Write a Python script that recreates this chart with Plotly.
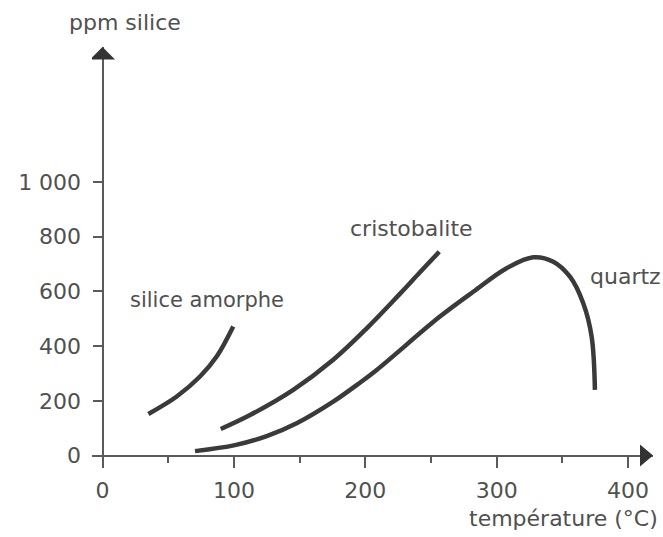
import plotly.graph_objects as go

# Solubility of silica phases in water versus temperature
amorphe_t = [34.9, 56.5, 74.2, 86.9, 99.5]
amorphe_ppm = [152, 216, 289, 362, 472]

cristo_t = [90.0, 112.3, 145.2, 175.6, 201.1, 226.5, 241.6, 256.3]
cristo_ppm = [97, 148, 240, 350, 465, 592, 670, 745]

quartz_t = [70.4, 100.8, 125.0, 147.8, 175.6, 194.7, 208.7, 256.8, 282.2, 307.6, 327.9,
            343.1, 355.8, 365.9, 372.3, 374.8]
quartz_ppm = [16, 38, 71, 118, 197, 262, 313, 508, 599, 685, 725,
              709, 654, 557, 435, 240]

x_ticks = [0, 100, 200, 300, 400]
y_ticks = [0, 200, 400, 600, 800, 1000]
y_tick_text = ["0", "200", "400", "600", "800", "1 000"]

INK = "#3a3a3a"
TEXT = "#505050"
AXIS = "#5a5a5a"
FONT = "DejaVu Sans"

X_RANGE = [-8, 419]
Y_RANGE = [-42, 1494]

fig = go.Figure()

for xs, ys in [(amorphe_t, amorphe_ppm), (cristo_t, cristo_ppm), (quartz_t, quartz_ppm)]:
    fig.add_trace(go.Scatter(
        x=xs, y=ys, mode="lines",
        line=dict(color=INK, width=4.5, shape="spline", smoothing=1.0),
        hoverinfo="skip", showlegend=False,
    ))

# arrowheads at the ends of both axes
fig.add_shape(type="path", xref="x", yref="y", xsizemode="pixel", ysizemode="pixel",
              xanchor=0, yanchor=Y_RANGE[1], path="M 0 0 L -12.5 -12.6 L 12.5 -12.6 Z",
              fillcolor="#333333", line=dict(width=0))
fig.add_shape(type="path", xref="x", yref="y", xsizemode="pixel", ysizemode="pixel",
              xanchor=X_RANGE[1], yanchor=0, path="M 0 0 L -13 11 L -13 -11 Z",
              fillcolor="#333333", line=dict(width=0))

# curve names
for txt, xv, yv, sz in [("silice amorphe", 19.4, 569, 21),
                        ("cristobalite", 186.8, 832, 22),
                        ("quartz", 369.5, 653, 22)]:
    fig.add_annotation(x=xv, y=yv, xref="x", yref="y", text=txt, showarrow=False,
                       xanchor="left", yanchor="middle",
                       font=dict(family=FONT, size=sz, color=TEXT))

# axis titles
fig.add_annotation(x=0.0588, y=1.0595, xref="paper", yref="paper", text="ppm silice",
                   showarrow=False, xanchor="center", yanchor="middle",
                   font=dict(family=FONT, size=22, color=TEXT))
fig.add_annotation(x=1.0125, y=-0.1238, xref="paper", yref="paper", text="température (°C)",
                   showarrow=False, xanchor="right", yanchor="middle",
                   font=dict(family=FONT, size=22, color=TEXT))

fig.update_layout(
    width=663, height=537,
    margin=dict(l=92, r=10, t=47, b=70),
    paper_bgcolor="white", plot_bgcolor="white",
    xaxis=dict(
        range=X_RANGE, anchor="free",
        position=(0 - Y_RANGE[0]) / (Y_RANGE[1] - Y_RANGE[0]),
        showgrid=False, zeroline=False,
        showline=True, linecolor=AXIS, linewidth=2,
        tickvals=x_ticks, ticks="outside", ticklen=11, tickwidth=2, tickcolor=AXIS,
        minor=dict(dtick=50, tick0=0, ticks="outside", ticklen=6, tickwidth=2, tickcolor=AXIS),
        ticklabelstandoff=4,
        tickfont=dict(family=FONT, size=22, color=TEXT),
    ),
    yaxis=dict(
        range=Y_RANGE, anchor="free",
        position=(0 - X_RANGE[0]) / (X_RANGE[1] - X_RANGE[0]),
        showgrid=False, zeroline=False,
        showline=True, linecolor=AXIS, linewidth=2,
        tickvals=y_ticks, ticktext=y_tick_text,
        ticks="outside", ticklen=9, tickwidth=2, tickcolor=AXIS,
        ticklabelstandoff=7,
        tickfont=dict(family=FONT, size=22, color=TEXT),
    ),
)

fig.write_html("out.html")
